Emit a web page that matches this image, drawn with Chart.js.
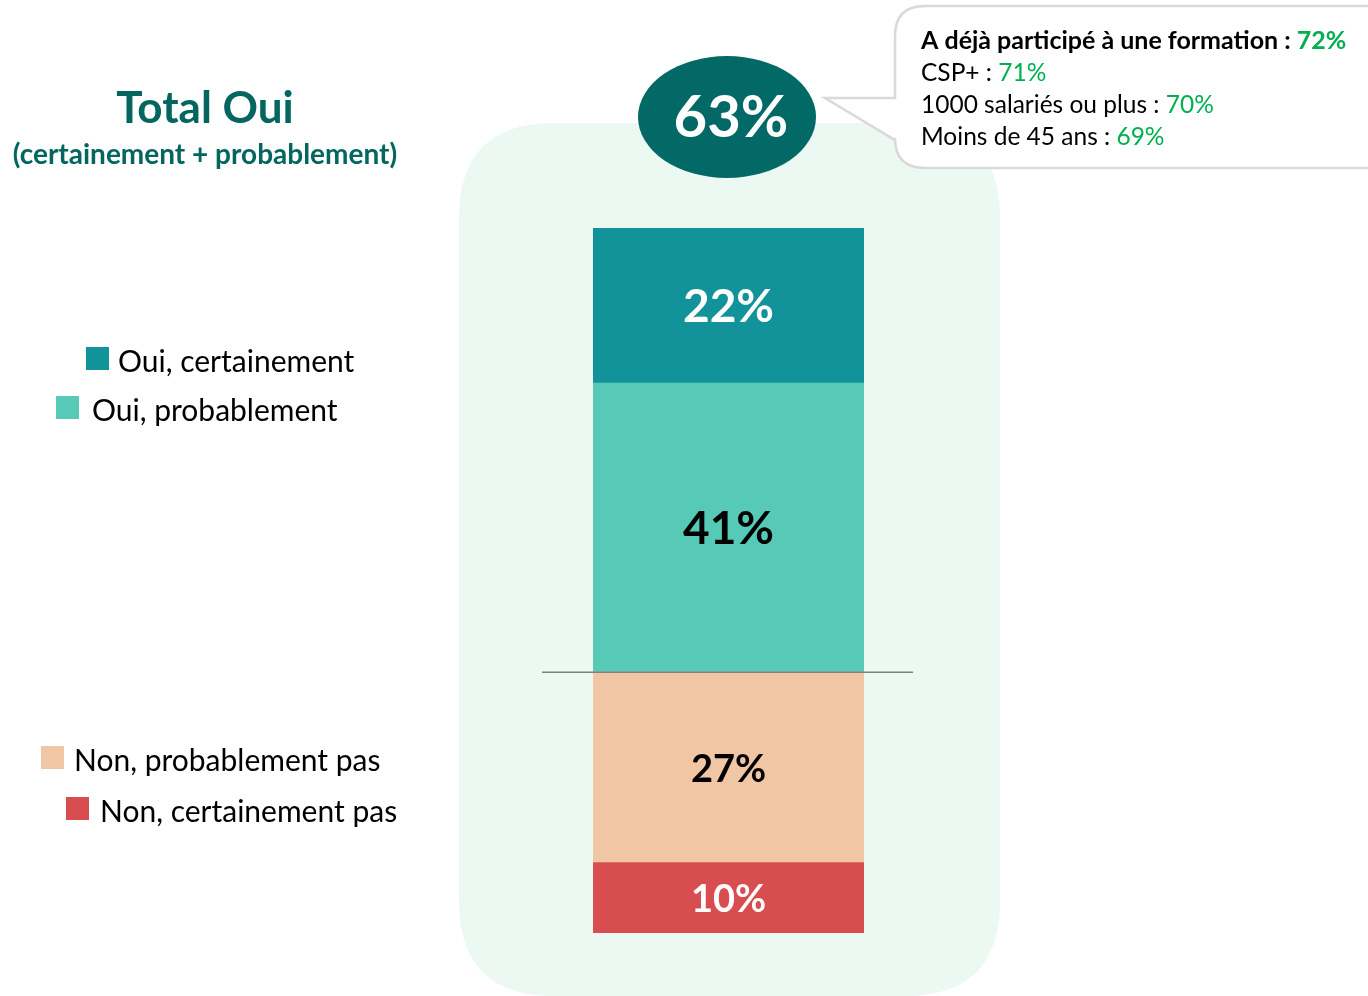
<!DOCTYPE html>
<html>
<head>
<meta charset="utf-8">
<script src="https://cdn.jsdelivr.net/npm/chart.js@4/dist/chart.umd.min.js"></script>
<style>
  html, body { margin: 0; padding: 0; background: #fff; }
  #wrap { position: relative; width: 1368px; height: 996px; }
</style>
</head>
<body>
<div id="wrap"><canvas id="chart" width="1368" height="996"></canvas></div>
<script>
// data, bottom of the stack first
const categories = ['Total'];
const seriesNames = ['Non, certainement pas', 'Non, probablement pas', 'Oui, probablement', 'Oui, certainement'];
const nonCertainement = [10];
const nonProbablement = [27];
const ouiProbablement = [41];
const ouiCertainement = [22];
const totalOui = '63%';
const calloutTitle = 'A déjà participé à une formation : ';
const calloutTitleValue = '72%';
const calloutLabels = ['CSP+ : ', '1000 salariés ou plus : ', 'Moins de 45 ans : '];
const calloutValues = ['71%', '70%', '69%'];

const FONT = 'Lato, "Open Sans", sans-serif';
const colors = ['#D84D4F', '#F1C6A4', '#56CAB7', '#12939A'];
const labelColors = ['#ffffff', '#000000', '#000000', '#ffffff'];
const labelSizes = [38, 38, 46, 46];

// legend positions (box x, box y, text x) - same order as seriesNames
const legendPos = [[66, 797, 100], [41, 746, 74], [56, 396, 92], [86, 347, 118]];

function roundRect(ctx, x, y, w, h, r) {
  ctx.beginPath();
  ctx.moveTo(x + r, y);
  ctx.lineTo(x + w - r, y);
  ctx.quadraticCurveTo(x + w, y, x + w, y + r);
  ctx.lineTo(x + w, y + h - r);
  ctx.quadraticCurveTo(x + w, y + h, x + w - r, y + h);
  ctx.lineTo(x + r, y + h);
  ctx.quadraticCurveTo(x, y + h, x, y + h - r);
  ctx.lineTo(x, y + r);
  ctx.quadraticCurveTo(x, y, x + r, y);
  ctx.closePath();
}

const decor = {
  id: 'decor',
  beforeDraw(chart) {
    const ctx = chart.ctx;
    ctx.save();
    // pale panel behind the bar
    ctx.fillStyle = '#ECF8F2';
    roundRect(ctx, 459, 123, 541, 873, 95);
    ctx.fill();

    // callout box with pointer
    ctx.fillStyle = '#ffffff';
    ctx.strokeStyle = '#D9D9D9';
    ctx.lineWidth = 2.5;
    const bx = 895, by = 6, bw = 520, bh = 162, r = 30;
    ctx.beginPath();
    ctx.moveTo(bx + r, by);
    ctx.lineTo(bx + bw, by);
    ctx.lineTo(bx + bw, by + bh);
    ctx.lineTo(bx + r, by + bh);
    ctx.quadraticCurveTo(bx, by + bh, bx, by + bh - r);
    ctx.lineTo(bx, 140);
    ctx.lineTo(825, 98);
    ctx.lineTo(bx, 98);
    ctx.lineTo(bx, by + r);
    ctx.quadraticCurveTo(bx, by, bx + r, by);
    ctx.closePath();
    ctx.fill();
    ctx.stroke();

    // title
    ctx.fillStyle = '#04665F';
    ctx.textAlign = 'center';
    ctx.textBaseline = 'middle';
    ctx.font = 'bold 44px ' + FONT;
    ctx.fillText('Total Oui', 205, 109);
    ctx.font = 'bold 28px ' + FONT;
    ctx.fillText('(certainement + probablement)', 205, 155);

    // legend
    ctx.textAlign = 'left';
    ctx.font = '30px ' + FONT;
    chart.data.datasets.forEach((ds, i) => {
      const p = legendPos[i];
      ctx.fillStyle = ds.backgroundColor;
      ctx.fillRect(p[0], p[1], 23, 23);
      ctx.fillStyle = '#000000';
      ctx.fillText(ds.label, p[2], p[1] + 15);
    });

    // callout text
    ctx.font = 'bold 25px ' + FONT;
    ctx.fillStyle = '#000000';
    ctx.fillText(calloutTitle, 921, 41);
    let w = ctx.measureText(calloutTitle).width;
    ctx.fillStyle = '#00B050';
    ctx.fillText(calloutTitleValue, 921 + w, 41);
    ctx.font = '24.5px ' + FONT;
    calloutLabels.forEach((lab, i) => {
      const y = 73 + i * 32;
      ctx.fillStyle = '#000000';
      ctx.fillText(lab, 921, y);
      const lw = ctx.measureText(lab).width;
      ctx.fillStyle = '#00B050';
      ctx.fillText(calloutValues[i], 921 + lw, y);
    });
    ctx.restore();
  },
  afterDatasetsDraw(chart) {
    const ctx = chart.ctx;
    ctx.save();
    // separator between oui and non
    const yScale = chart.scales.y;
    const ySep = yScale.getPixelForValue(nonCertainement[0] + nonProbablement[0]);
    ctx.strokeStyle = '#808080';
    ctx.lineWidth = 1.5;
    ctx.beginPath();
    ctx.moveTo(542, ySep);
    ctx.lineTo(913, ySep);
    ctx.stroke();

    // segment labels
    ctx.textAlign = 'center';
    ctx.textBaseline = 'middle';
    chart.data.datasets.forEach((ds, i) => {
      const bar = chart.getDatasetMeta(i).data[0];
      ctx.fillStyle = labelColors[i];
      ctx.font = 'bold ' + labelSizes[i] + 'px ' + FONT;
      ctx.fillText(ds.data[0] + '%', bar.x, (bar.y + bar.base) / 2 + 2);
    });

    // total oui ellipse
    ctx.fillStyle = '#036966';
    ctx.beginPath();
    ctx.ellipse(727, 117, 89, 61, 0, 0, Math.PI * 2);
    ctx.fill();
    ctx.fillStyle = '#ffffff';
    ctx.font = 'bold 58px ' + FONT;
    ctx.fillText(totalOui, 731, 118);
    ctx.restore();
  }
};

const seriesValues = [nonCertainement, nonProbablement, ouiProbablement, ouiCertainement];

new Chart(document.getElementById('chart'), {
  type: 'bar',
  data: {
    labels: categories,
    datasets: seriesNames.map((name, i) => ({
      label: name,
      data: seriesValues[i],
      backgroundColor: colors[i],
      borderWidth: 0,
      barPercentage: 1,
      categoryPercentage: 1
    }))
  },
  options: {
    responsive: false,
    animation: false,
    layout: { padding: { left: 593, right: 504, top: 228, bottom: 63 } },
    plugins: { legend: { display: false }, tooltip: { enabled: false } },
    scales: {
      x: { stacked: true, display: false },
      y: { stacked: true, display: false, min: 0, max: 100 }
    }
  },
  plugins: [decor]
});
</script>
</body>
</html>
